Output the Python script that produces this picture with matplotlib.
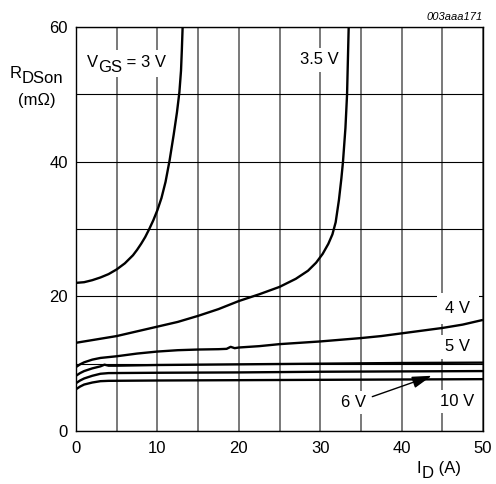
import matplotlib
matplotlib.use("Agg")
import matplotlib.pyplot as plt
from matplotlib.patches import Rectangle

plt.rcParams['font.family'] = ['Liberation Sans', 'DejaVu Sans']

# ---- data ----
x_3v = [0, 1, 2, 3, 4, 5, 6, 7, 7.5, 8, 8.5, 9, 9.5, 10, 10.5, 11, 11.5, 12, 12.4, 12.7, 12.9, 13.0, 13.1]
y_3v = [22.0, 22.1, 22.4, 22.8, 23.3, 24.0, 24.9, 26.1, 26.9, 27.8, 28.8, 30.0, 31.3, 32.8, 34.6, 37.0, 40.2, 44.0, 47.3, 50.3, 53.5, 56.5, 60.0]

x_35v = [0, 2.5, 5, 7.5, 10, 12.5, 15, 17.5, 20, 22.5, 25, 27, 28.5, 29.5, 30.3, 31, 31.5, 31.9, 32.3, 32.6, 32.8, 33.1, 33.3, 33.4, 33.5]
y_35v = [13.1, 13.6, 14.1, 14.8, 15.5, 16.2, 17.1, 18.1, 19.3, 20.3, 21.4, 22.6, 23.8, 25.0, 26.3, 27.8, 29.2, 31.0, 34.3, 37.5, 40.0, 45.0, 50.0, 55.0, 60.0]

x_4v = [0, 0.5, 1, 2, 3, 5, 7.5, 10, 12.5, 15, 17.5, 18.5, 19, 19.5, 20, 22.5, 25, 27.5, 30, 32.5, 35, 37.5, 40, 42.5, 45, 47.5, 50]
y_4v = [9.5, 9.9, 10.2, 10.6, 10.85, 11.1, 11.5, 11.8, 12.0, 12.1, 12.15, 12.2, 12.5, 12.3, 12.4, 12.6, 12.9, 13.1, 13.3, 13.55, 13.8, 14.1, 14.5, 14.9, 15.3, 15.8, 16.5]

x_5v = [0, 0.5, 1, 2, 3, 3.5, 4, 5, 10, 20, 30, 40, 50]
y_5v = [8.2, 8.6, 8.9, 9.3, 9.6, 9.85, 9.7, 9.7, 9.8, 9.9, 10.0, 10.1, 10.15]

x_6v = [0, 0.5, 1, 2, 3, 4, 10, 20, 30, 40, 50]
y_6v = [7.1, 7.5, 7.8, 8.2, 8.5, 8.6, 8.65, 8.7, 8.8, 8.85, 8.9]

x_10v = [0, 0.5, 1, 2, 3, 4, 10, 20, 30, 40, 50]
y_10v = [6.2, 6.6, 6.9, 7.2, 7.4, 7.45, 7.5, 7.55, 7.6, 7.65, 7.7]

x_ticks = [0, 10, 20, 30, 40, 50]
y_ticks = [0, 20, 40, 60]

FS = 12

fig = plt.figure(figsize=(4.96, 4.84), dpi=100)
ax = fig.add_axes([76/496, 53/484, 407/496, 404/484])
ax.set_xlim(0, 50)
ax.set_ylim(0, 60)

ax.set_xticks(x_ticks)
ax.set_xticklabels([str(v) for v in x_ticks])
ax.set_xticks([5, 15, 25, 35, 45], minor=True)
ax.set_yticks(y_ticks)
ax.set_yticklabels([str(v) for v in y_ticks])
ax.set_yticks([10, 30, 50], minor=True)
ax.tick_params(which='both', length=0, labelsize=FS)
ax.tick_params(axis='x', pad=7)
ax.tick_params(axis='y', pad=6)

ax.grid(True, axis='x', which='both', color='#555555', lw=1.1, zorder=1)
ax.grid(True, axis='y', which='both', color='black', lw=0.8, zorder=1)
ax.set_axisbelow(True)
for s in ax.spines.values():
    s.set_linewidth(1.0)
    s.set_color('black')

lw = 1.7
for xs, ys in [(x_3v, y_3v), (x_35v, y_35v), (x_4v, y_4v), (x_5v, y_5v), (x_6v, y_6v), (x_10v, y_10v)]:
    ax.plot(xs, ys, color='black', lw=lw, zorder=5, solid_capstyle='butt', solid_joinstyle='round')

box = dict(facecolor='white', edgecolor='none', pad=3)

# V_GS = 3 V : white backing patch, then chained black parts
ax.add_patch(Rectangle((1.0, 52.6), 10.8, 4.0, facecolor='white', edgecolor='none', zorder=2))
t_v = ax.text(1.35, 54.1, 'V', fontsize=FS, ha='left', va='baseline', zorder=3)
t_gs = ax.annotate('GS', xy=(1, 0), xycoords=t_v, xytext=(0, -3.6),
                   textcoords='offset points', ha='left', va='bottom',
                   fontsize=FS, zorder=3)
ax.annotate(' = 3 V', xy=(1, 1), xycoords=t_gs, xytext=(0, 3.6),
            textcoords='offset points', ha='left', va='top',
            fontsize=FS, zorder=3)

ax.text(29.9, 55.1, '3.5 V', fontsize=FS, ha='center', va='center', bbox=box, zorder=3)
ax.text(46.9, 18.2, '4 V', fontsize=FS, ha='center', va='center',
        bbox=dict(facecolor='white', edgecolor='none', pad=6), zorder=3)
ax.text(46.9, 12.5, '5 V', fontsize=FS, ha='center', va='center', bbox=box, zorder=3)
ax.text(46.8, 4.35, '10 V', fontsize=FS, ha='center', va='center', bbox=box, zorder=3)
ax.text(34.1, 4.2, '6 V', fontsize=FS, ha='center', va='center', bbox=box, zorder=3)
ax.annotate('', xy=(43.7, 8.2), xytext=(36.4, 5.1),
            arrowprops=dict(arrowstyle='-|>,head_length=0.6,head_width=0.18',
                            color='black', lw=1.0, mutation_scale=20, shrinkA=0, shrinkB=0),
            zorder=6)

# y-axis label R_DSon (mΩ)
t_r = fig.text(10/496, 1 - 78/484, 'R', fontsize=FS, ha='left', va='baseline')
ax.annotate('DSon', xy=(1, 0), xycoords=t_r, xytext=(0, -3.3),
            textcoords='offset points', ha='left', va='bottom',
            fontsize=FS, annotation_clip=False)
fig.text(37/496, 1 - 105/484, '(mΩ)', fontsize=FS, ha='center', va='baseline')

# x-axis label I_D (A)
t_i = fig.text(417/496, 1 - 473/484, 'I', fontsize=FS, ha='left', va='baseline')
t_d = ax.annotate('D', xy=(1, 0), xycoords=t_i, xytext=(0, -3.6),
                  textcoords='offset points', ha='left', va='bottom',
                  fontsize=FS, annotation_clip=False)
ax.annotate(' (A)', xy=(1, 1), xycoords=t_d, xytext=(0, 3.6),
            textcoords='offset points', ha='left', va='top',
            fontsize=FS, annotation_clip=False)

fig.text(483/496, 1 - 17/484, '003aaa171', fontsize=8, style='italic', ha='right', va='center')

fig.savefig('out.png', dpi=100)
